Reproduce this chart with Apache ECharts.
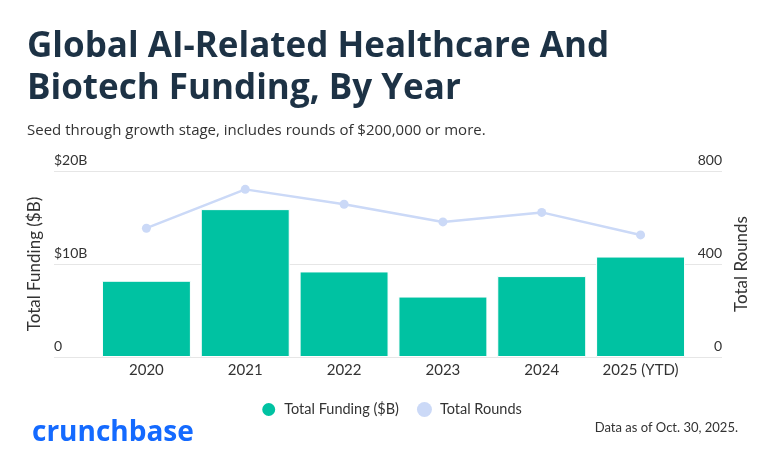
<!DOCTYPE html>
<html>
<head>
<meta charset="utf-8">
<script src="https://cdn.jsdelivr.net/npm/echarts@6/dist/echarts.min.js"></script>
<style>
html,body{margin:0;padding:0;background:#fff;}
#chart{width:782px;height:464px;}
</style>
</head>
<body>
<div id="chart"></div>
<script>
var years = ['2020', '2021', '2022', '2023', '2024', '2025 (YTD)'];
var totalFunding = [8.2, 15.9, 9.2, 6.5, 8.7, 10.8];
var totalRounds = [554, 721, 657, 581, 622, 525];
var fundingTicks = { min: 0, max: 20, interval: 10 };
var roundsTicks = { min: 0, max: 800, interval: 400 };

var FONT = 'Lato, "Open Sans", sans-serif';
var HEAD = '"Open Sans", Lato, sans-serif';
var chart = echarts.init(document.getElementById('chart'), null, { renderer: 'canvas' });
chart.setOption({
  animation: false,
  backgroundColor: '#ffffff',
  textStyle: { fontFamily: FONT },
  title: [
    {
      text: 'Global AI-Related Healthcare And\nBiotech Funding, By Year',
      left: 22, top: 21,
      textStyle: { fontFamily: HEAD, fontSize: 35, fontWeight: 'bold', color: '#1d3245', lineHeight: 42 }
    },
    {
      text: 'Seed through growth stage, includes rounds of $200,000 or more.',
      left: 22, top: 118,
      textStyle: { fontFamily: HEAD, fontSize: 15, fontWeight: 'normal', color: '#333333' }
    }
  ],
  legend: {
    top: 396, left: 'center',
    itemWidth: 15, itemHeight: 15, itemGap: 18,
    icon: 'circle',
    textStyle: { fontFamily: FONT, fontSize: 14.5, color: '#333333', padding: [0, 0, 0, 3] },
    data: ['Total Funding ($B)', 'Total Rounds']
  },
  graphic: [
    {
      type: 'text', left: 32, top: 419,
      style: { text: 'crunchbase', fontFamily: HEAD, fontSize: 28, fontWeight: 'bold', fill: '#146aff' }
    },
    {
      type: 'text', right: 44, top: 421,
      style: { text: 'Data as of Oct. 30, 2025.', fontFamily: FONT, fontSize: 13, fill: '#333333' }
    }
  ],
  grid: [
    { left: 97, right: 92, top: 171, bottom: 107 },
    { left: 54, right: 60, top: 171, bottom: 107 }
  ],
  xAxis: [
    {
      gridIndex: 0, type: 'category', data: years,
      axisLine: { show: false }, axisTick: { show: false },
      axisLabel: { interval: 0, fontFamily: FONT, fontSize: 15, color: '#333333', margin: 6 }
    },
    { gridIndex: 1, type: 'value', show: false, min: 0, max: 1 }
  ],
  yAxis: [
    { gridIndex: 0, type: 'value', min: fundingTicks.min, max: fundingTicks.max, show: false },
    { gridIndex: 0, type: 'value', min: roundsTicks.min, max: roundsTicks.max, show: false },
    {
      gridIndex: 1, type: 'value', position: 'left',
      min: fundingTicks.min, max: fundingTicks.max, interval: fundingTicks.interval,
      name: 'Total Funding ($B)', nameLocation: 'middle', nameGap: 11,
      nameTextStyle: { fontFamily: FONT, fontSize: 17, color: '#333333' },
      axisLine: { show: false }, axisTick: { show: false },
      splitLine: { lineStyle: { color: '#e6e6e6', width: 1 } },
      axisLabel: {
        inside: true, margin: 0, verticalAlign: 'bottom', padding: [0, 0, 4, 0],
        fontFamily: FONT, fontSize: 14, color: '#333333',
        formatter: function (v) { return v === 0 ? '0' : '$' + v + 'B'; }
      }
    },
    {
      gridIndex: 1, type: 'value', position: 'right',
      min: roundsTicks.min, max: roundsTicks.max, interval: roundsTicks.interval,
      name: 'Total Rounds', nameLocation: 'middle', nameGap: 11,
      nameTextStyle: { fontFamily: FONT, fontSize: 17, color: '#333333' },
      axisLine: { show: false }, axisTick: { show: false },
      splitLine: { show: false },
      axisLabel: {
        inside: true, margin: 0, verticalAlign: 'bottom', padding: [0, 0, 4, 0],
        fontFamily: FONT, fontSize: 14, color: '#333333'
      }
    }
  ],
  series: [
    {
      name: 'Total Funding ($B)', type: 'bar',
      xAxisIndex: 0, yAxisIndex: 0,
      data: totalFunding, barCategoryGap: '10%',
      itemStyle: { color: '#00c2a2', borderColor: '#ffffff', borderWidth: 1 }
    },
    {
      name: 'Total Rounds', type: 'line',
      xAxisIndex: 0, yAxisIndex: 1,
      data: totalRounds, z: 5,
      symbol: 'circle', symbolSize: 9,
      lineStyle: { color: '#cbd9f7', width: 2.5 },
      itemStyle: { color: '#cbd9f7' }
    }
  ]
});
</script>
</body>
</html>
